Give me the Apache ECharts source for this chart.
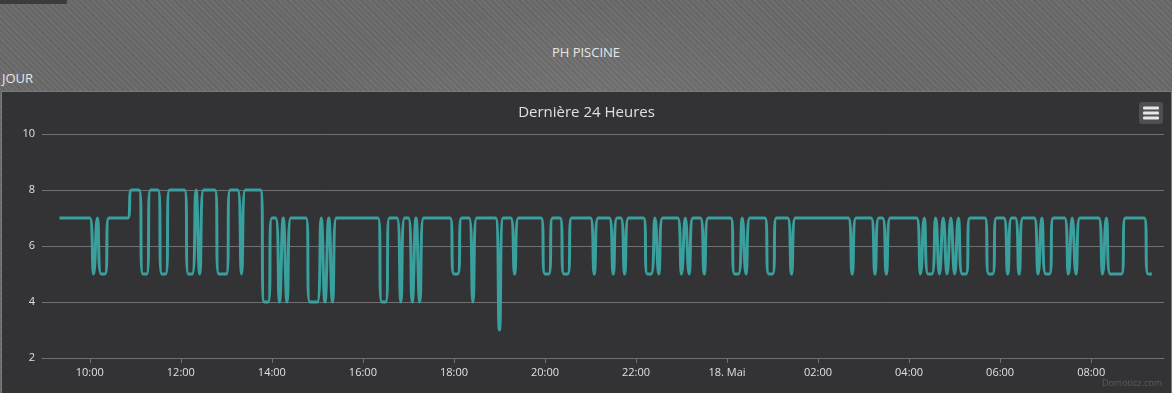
<!DOCTYPE html>
<html>
<head>
<meta charset="utf-8">
<script src="https://cdn.jsdelivr.net/npm/echarts@6/dist/echarts.min.js"></script>
<style>
  html, body { margin: 0; padding: 0; }
  body {
    width: 1172px; height: 393px; overflow: hidden; position: relative;
    font-family: "Open Sans", "DejaVu Sans", sans-serif;
    background:
      radial-gradient(ellipse 300px 120px at 600px 125px, rgba(255,255,255,0.07), rgba(255,255,255,0) 100%),
      repeating-linear-gradient(45deg, #666666 0px, #666666 2px, #6f6f6f 2px, #6f6f6f 4px);
  }
  #tab { position: absolute; left: 0; top: 0; width: 67px; height: 4px; background: #3c3c3c; }
  #name { position: absolute; left: 0; width: 1172px; top: 43px; text-align: center; color: #e6e6e6; font-size: 13px; }
  #period { position: absolute; left: 2px; top: 69px; color: #e6e6e6; font-size: 13px; }
  #chart { position: absolute; left: 1px; top: 91px; width: 1169px; height: 302px; border: 1px solid #7a7a7a; border-bottom: none; }
</style>
</head>
<body>
<div id="tab"></div>
<div id="name">PH PISCINE</div>
<div id="period">JOUR</div>
<div id="chart"></div>
<script>
// pH relevé toutes les 5 minutes, du 17 mai 09:20 au 18 mai 09:20
var startTime = '2024-05-17 09:20';
var stepMinutes = 5;
var phValues = [
  7,7,7,7,7,7,7,7,7,5,7,5,5,7,7,7,7,7,7,8,8,8,5,5,
  8,8,8,5,5,8,8,8,8,8,5,5,8,5,8,8,8,8,5,5,5,8,8,8,
  5,8,8,8,8,8,4,4,7,7,4,7,4,7,7,7,7,7,4,4,4,7,4,7,
  4,7,7,7,7,7,7,7,7,7,7,7,7,4,4,7,7,7,4,7,7,4,7,4,
  7,7,7,7,7,7,7,7,5,5,7,7,7,4,7,7,7,7,7,7,3,7,7,7,
  5,7,7,7,7,7,7,7,5,5,7,7,7,5,5,7,7,7,7,7,7,5,7,7,
  7,7,5,7,7,5,7,7,7,7,7,5,5,7,5,7,7,7,7,7,5,7,5,7,
  7,7,5,7,7,7,7,7,7,7,5,5,7,5,7,7,7,7,7,5,5,7,7,7,
  7,5,7,7,7,7,7,7,7,7,7,7,7,7,7,7,7,5,7,7,7,7,7,5,
  7,7,5,7,7,7,7,7,7,7,7,5,7,5,5,7,5,7,5,7,5,7,5,5,
  7,7,7,7,7,5,5,7,7,7,5,7,7,5,7,7,7,7,5,7,5,5,7,7,
  7,7,5,7,5,7,7,7,7,7,7,5,7,5,5,5,5,7,7,7,7,7,7,5,
  5
];
var tickTimes = ['2024-05-17 10:00','2024-05-17 12:00','2024-05-17 14:00','2024-05-17 16:00',
  '2024-05-17 18:00','2024-05-17 20:00','2024-05-17 22:00','2024-05-18 00:00',
  '2024-05-18 02:00','2024-05-18 04:00','2024-05-18 06:00','2024-05-18 08:00'];
var tickLabels = ['10:00','12:00','14:00','16:00','18:00','20:00','22:00','18. Mai','02:00','04:00','06:00','08:00'];
var xMin = '2024-05-17 08:57';
var xMax = '2024-05-18 09:36';
var yTicks = [2, 4, 6, 8, 10];

function toMs(s) {
  var p = s.split(/[- :]/);
  return Date.UTC(+p[0], +p[1] - 1, +p[2], +p[3], +p[4]);
}

var t0 = toMs(startTime);
var seriesData = phValues.map(function (v, i) {
  return [t0 + i * stepMinutes * 60000, v];
});
var tickMs = tickTimes.map(toMs);

var chart = echarts.init(document.getElementById('chart'));
var textColor = '#e0e0e3';
var gridColor = '#707073';
var font = '"Open Sans", "DejaVu Sans", sans-serif';

chart.setOption({
  animation: false,
  backgroundColor: '#333335',
  title: {
    text: 'Dernière 24 Heures',
    left: 'center',
    top: 8,
    textStyle: { color: textColor, fontSize: 15, fontWeight: 'normal', fontFamily: font }
  },
  grid: { left: 40, right: 7, top: 42, bottom: 36 },
  xAxis: {
    type: 'value',
    min: toMs(xMin),
    max: toMs(xMax),
    axisLine: { show: true, lineStyle: { color: gridColor, width: 1 } },
    axisTick: { show: true, length: 5, lineStyle: { color: gridColor }, customValues: tickMs },
    splitLine: { show: false },
    axisLabel: {
      customValues: tickMs,
      color: textColor,
      fontSize: 11,
      fontFamily: font,
      margin: 9,
      formatter: function (val) {
        var k = tickMs.indexOf(val);
        return k >= 0 ? tickLabels[k] : '';
      }
    }
  },
  yAxis: {
    type: 'value',
    min: yTicks[0],
    max: yTicks[yTicks.length - 1],
    interval: 2,
    axisLine: { show: false },
    axisTick: { show: false },
    splitLine: { lineStyle: { color: gridColor, width: 1 } },
    axisLabel: { color: textColor, fontSize: 11, fontFamily: font, margin: 7 }
  },
  series: [{
    type: 'line',
    data: seriesData,
    smooth: 0.5,
    showSymbol: false,
    symbol: 'none',
    lineStyle: { color: '#3aa09d', width: 3 }
  }],
  graphic: [
    {
      type: 'group',
      right: 8,
      top: 10,
      children: [
        { type: 'rect', shape: { x: 0, y: 0, width: 24, height: 22, r: 3 }, style: { fill: '#4f4f52' } },
        { type: 'rect', shape: { x: 4, y: 4.5, width: 16, height: 3, r: 1 }, style: { fill: '#e6e6e6' } },
        { type: 'rect', shape: { x: 4, y: 9.5, width: 16, height: 3, r: 1 }, style: { fill: '#e6e6e6' } },
        { type: 'rect', shape: { x: 4, y: 14.5, width: 16, height: 3, r: 1 }, style: { fill: '#e6e6e6' } }
      ]
    },
    {
      type: 'text',
      right: 9,
      bottom: 6,
      style: { text: 'Domoticz.com', fill: '#5c5c5e', font: '9px ' + font }
    }
  ]
});
</script>
</body>
</html>
